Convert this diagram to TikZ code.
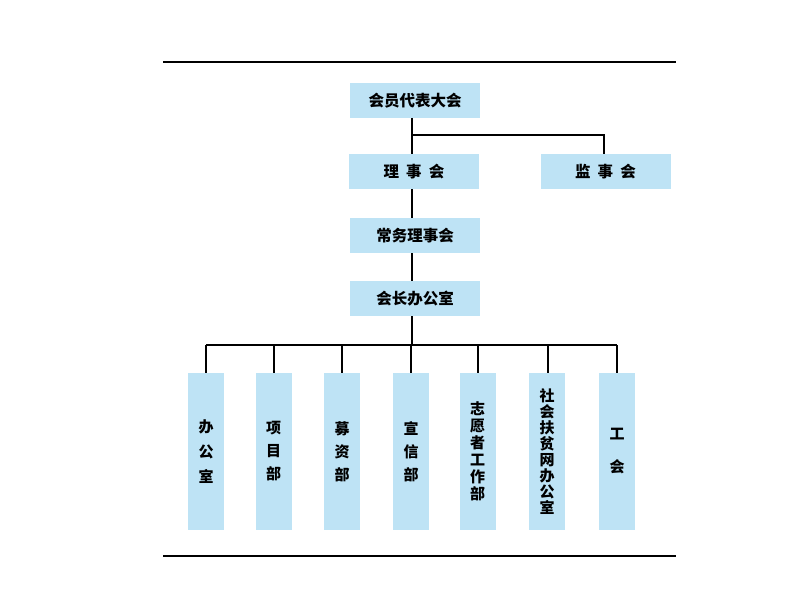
\documentclass[tikz,border=0pt]{standalone}
\usepackage{fontspec}
\setmainfont{Noto Sans CJK SC}
\begin{document}
\begin{tikzpicture}[x=1pt,y=-1pt,
  hbox/.style={fill=boxblue,draw=none,minimum width=130pt,minimum height=35pt,font=\bfseries\fontsize{15.5}{17}\selectfont,inner sep=0pt},
  vbox/.style={fill=boxblue,draw=none,minimum width=36pt,minimum height=157pt,font=\bfseries\fontsize{15}{19}\selectfont,align=center,inner sep=0pt},
  ln/.style={line width=2pt,black}]
\definecolor{boxblue}{HTML}{BEE3F5}
\useasboundingbox (0,0) rectangle (800,591);
\draw[line width=1.2pt] (163,62) -- (676,62);
\draw[line width=1.2pt] (163,556) -- (676,556);
\node[hbox] (hy) at (415,100.5) {会员代表大会};
\node[hbox] (ls) at (414,171.5) {理\ \ 事\ \ 会};
\node[hbox] (js) at (605.5,171.5) {监\ \ 事\ \ 会};
\node[hbox] (cw) at (415,235.5) {常务理事会};
\node[hbox] (hz) at (415,298.5) {会长办公室};
\coordinate (b1) at (412,135);
\coordinate (b2) at (604,135);
\draw[ln] (412,118) -- (412,154);
\draw[ln] (b1) -- (b2) -- (604,154);
\draw[ln] (412,189) -- (412,218);
\draw[ln] (412,253) -- (412,281);
\draw[ln] (412,316) -- (412,345);
\coordinate (bl) at (206,345);
\coordinate (br) at (617,345);
\draw[ln] (bl) -- (br);
\foreach \n/\x/\lx/\t in {d1/206/206/办\\[6pt]公\\[6pt]室, d2/273.5/274/项\\[4pt]目\\[4pt]部, d3/342/342/募\\[4pt]资\\[4pt]部, d4/411/411/宣\\[4pt]信\\[4pt]部, d5/477.5/478/志\\[-2pt]愿\\[-2pt]者\\[-2pt]工\\[-2pt]作\\[-2pt]部, d6/547/548/社\\[-3pt]会\\[-3pt]扶\\[-3pt]贫\\[-3pt]网\\[-3pt]办\\[-3pt]公\\[-3pt]室, d7/617/617/工\\[14pt]会}{
  \node[vbox] (\n) at (\x,451.5) {\t};
  \draw[ln] (\lx,345) -- (\lx,373);
}
\end{tikzpicture}
\end{document}
